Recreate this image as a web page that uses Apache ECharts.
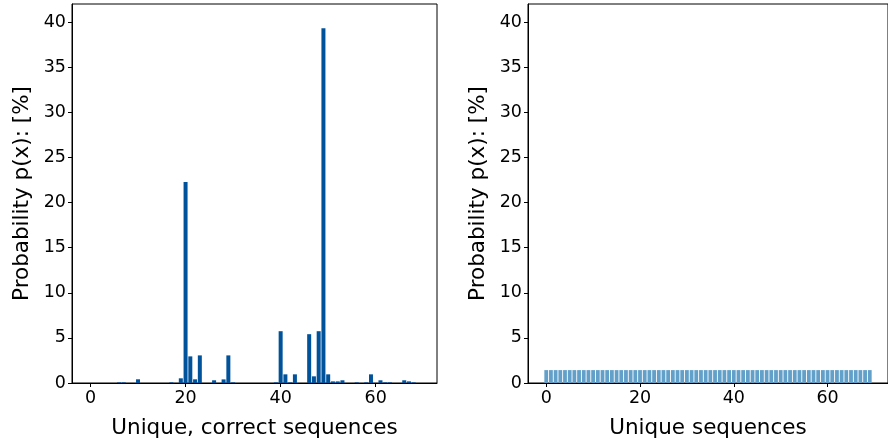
<!DOCTYPE html>
<html>
<head>
<meta charset="utf-8">
<script src="https://cdn.jsdelivr.net/npm/echarts@6/dist/echarts.min.js"></script>
<style>
html,body{margin:0;padding:0;background:#fff;}
#c{width:888px;height:445px;}
</style>
</head>
<body>
<div id="c"></div>
<script>
// index of each unique sequence (0..69)
const seqIndex = [0,1,2,3,4,5,6,7,8,9,10,11,12,13,14,15,16,17,18,19,20,21,22,23,24,25,26,27,28,29,30,31,32,33,34,35,36,37,38,39,40,41,42,43,44,45,46,47,48,49,50,51,52,53,54,55,56,57,58,59,60,61,62,63,64,65,66,67,68,69];
// left panel: probability [%] of unique, correct sequences
const correctProb = [0,0,0,0,0,0,0.07,0.07,0,0,0.41,0,0,0,0,0,0,0.07,0,0.52,22.27,2.95,0.41,3.06,0,0,0.3,0,0.4,3.06,0.07,0,0,0,0,0,0,0,0,0.07,5.74,0.96,0.07,0.96,0,0,5.41,0.74,5.74,39.3,0.96,0.18,0.18,0.3,0,0,0.07,0,0.07,0.96,0,0.3,0.07,0.07,0,0,0.3,0.18,0.07,0];
// right panel: probability [%] of unique sequences
const uniqueProb = [1.43,1.43,1.43,1.43,1.43,1.43,1.43,1.43,1.43,1.43,1.43,1.43,1.43,1.43,1.43,1.43,1.43,1.43,1.43,1.43,1.43,1.43,1.43,1.43,1.43,1.43,1.43,1.43,1.43,1.43,1.43,1.43,1.43,1.43,1.43,1.43,1.43,1.43,1.43,1.43,1.43,1.43,1.43,1.43,1.43,1.43,1.43,1.43,1.43,1.43,1.43,1.43,1.43,1.43,1.43,1.43,1.43,1.43,1.43,1.43,1.43,1.43,1.43,1.43,1.43,1.43,1.43,1.43,1.43,1.43];
const xTicks = [0,20,40,60];
const yTicks = [0,5,10,15,20,25,30,35,40];
const xName1 = 'Unique, correct sequences';
const xName2 = 'Unique sequences';
const yName = 'Probability p(x): [%]';

const FONT = 'DejaVu Sans';
const chart = echarts.init(document.getElementById('c'), null, {renderer:'canvas'});

function xAxis(gi, name){
  return {
    type:'value', gridIndex:gi, min:-3.89, max:72.89,
    name:name, nameLocation:'middle', nameGap:34,
    nameTextStyle:{fontFamily:FONT,fontSize:21.5,color:'#000'},
    axisLine:{show:true,onZero:false,lineStyle:{color:'#000',width:1}},
    axisTick:{show:true,length:4,customValues:xTicks,lineStyle:{color:'#000'}},
    axisLabel:{customValues:xTicks,fontFamily:FONT,fontSize:17.5,color:'#000',margin:6},
    splitLine:{show:false}
  };
}
function yAxis(gi){
  return {
    type:'value', gridIndex:gi, min:0, max:42,
    name:yName, nameLocation:'middle', nameGap:39,
    nameTextStyle:{fontFamily:FONT,fontSize:21.5,color:'#000'},
    axisLine:{show:true,onZero:false,lineStyle:{color:'#000',width:1}},
    axisTick:{show:true,length:4,customValues:yTicks,lineStyle:{color:'#000'}},
    axisLabel:{customValues:yTicks,fontFamily:FONT,fontSize:17.5,color:'#000',margin:6},
    splitLine:{show:false}
  };
}

chart.setOption({
  animation:false,
  backgroundColor:'#fff',
  grid:[
    {left:72,top:4,width:365,height:379,show:true,borderColor:'#000',borderWidth:1,backgroundColor:'transparent'},
    {left:528,top:4,width:365,height:379,show:true,borderColor:'#000',borderWidth:1,backgroundColor:'transparent'}
  ],
  xAxis:[xAxis(0,xName1),xAxis(1,xName2)],
  yAxis:[yAxis(0),yAxis(1)],
  series:[
    {type:'bar',xAxisIndex:0,yAxisIndex:0,barWidth:4,
     itemStyle:{color:'#00529a'},
     data:seqIndex.map((x,i)=>[x,correctProb[i]])},
    {type:'bar',xAxisIndex:1,yAxisIndex:1,barWidth:3.8,
     itemStyle:{color:'#62a0ca'},
     data:seqIndex.map((x,i)=>[x,uniqueProb[i]])}
  ]
});
</script>
</body>
</html>
